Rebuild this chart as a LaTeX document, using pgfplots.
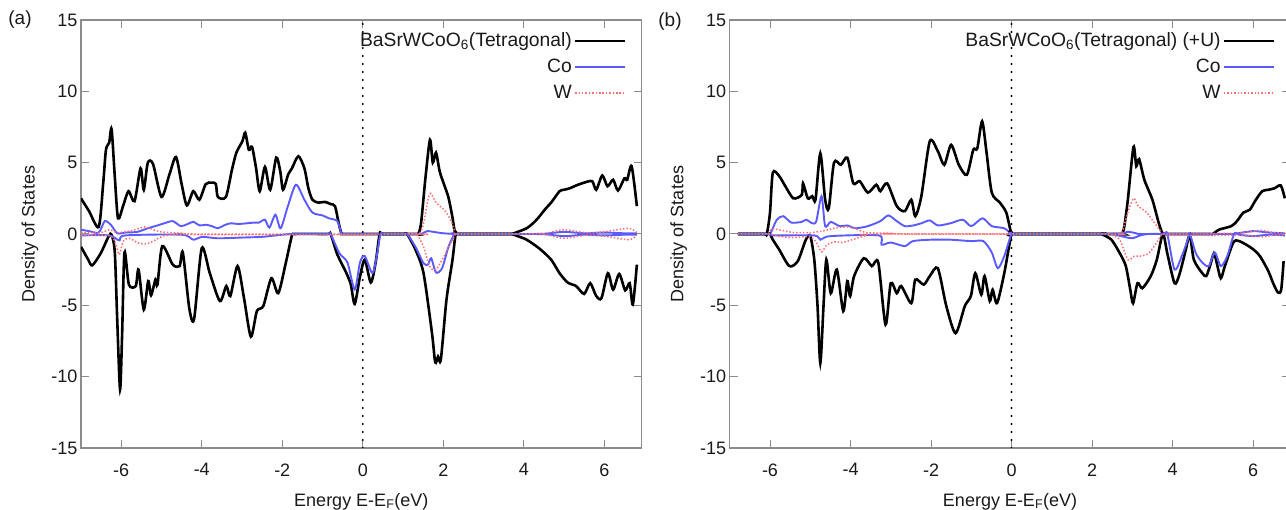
\documentclass[border=0pt]{standalone}
\usepackage{fontspec}
\setmainfont{Liberation Sans}
\usepackage{pgfplots}
\pgfplotsset{compat=1.18}
\definecolor{dosblue}{HTML}{5A5AFF}
\definecolor{dosred}{HTML}{FF6F6F}
\definecolor{framegray}{HTML}{8C8C8C}
\definecolor{ink}{HTML}{1A1A1A}

\pgfplotsset{dos/.style={
  scale only axis, width=560.7pt, height=428pt,
  xmin=-7, xmax=6.93, ymin=-15, ymax=15,
  xtick={-6,-4,-2,0,2,4,6}, ytick={-15,-10,-5,0,5,10,15},
  xticklabels={-6,-4,-2,0,2,4,6}, yticklabels={-15,-10,-5,0,5,10,15},
  tick align=inside, major tick length=8pt,
  axis line style={framegray, line width=1.2pt}, tick style={framegray, line width=1pt},
  tick label style={font=\fontsize{18}{20}\selectfont, text=ink},
  xticklabel style={yshift=-12pt},
  label style={font=\fontsize{18}{20}\selectfont, text=ink},
  xlabel={Energy E-E\textsubscript{F}(eV)},
  ylabel={Density of States},
  xlabel style={at={(axis description cs:0.5,-0.125)}, anchor=center},
  ylabel style={at={(axis description cs:-0.091,0.5)}, anchor=center},
  legend plot pos=right, legend cell align=right,
  legend style={at={(1,1)}, anchor=north east, xshift=-12pt, yshift=-8pt, draw=none, fill=none,
    font=\fontsize{19.3}{22}\selectfont, text=ink, row sep=4pt,
    nodes={inner sep=2pt, text height=14pt, text depth=4pt}},
  tot/.style={black, line width=2.6pt, smooth, tension=0.45},
  co/.style={dosblue, line width=1.9pt, smooth, tension=0.45},
  wd/.style={dosred, line width=1.5pt, dash pattern=on 1.5pt off 1.9pt, smooth, tension=0.45},
  legend image code/.code={\draw[#1] (0pt,0pt) -- (50pt,0pt);},
}}

\begin{document}
\begin{tikzpicture}
\useasboundingbox (0pt,0pt) rectangle (1286pt,510pt);
%% (a) GGA
\begin{axis}[dos, at={(81pt,62pt)}, anchor=south west]
  \draw[black, line width=2.3pt, line cap=round, dash pattern=on 0pt off 8pt] (axis cs:0,-15) -- (axis cs:0,15);
  \addplot[tot] coordinates {
    (-7.0,2.5) (-6.8,1.6) (-6.56,0.5) (-6.45,3.5) (-6.38,5.9) (-6.3,6.4) (-6.24,7.35) (-6.16,4.0) (-6.08,1.1)
    (-5.95,2.0) (-5.82,3.0) (-5.67,2.3) (-5.52,4.6) (-5.44,3.1) (-5.34,5.0) (-5.21,4.9) (-5.0,2.6) (-4.8,4.2)
    (-4.64,5.4) (-4.5,3.5) (-4.37,2.0) (-4.21,3.0) (-4.06,2.4) (-3.9,3.5) (-3.75,3.6) (-3.65,3.5) (-3.6,2.6)
    (-3.4,2.6) (-3.25,4.5) (-3.14,5.7) (-2.99,6.5) (-2.92,7.1) (-2.83,5.9) (-2.75,6.1) (-2.65,4.6) (-2.56,3.0)
    (-2.43,4.7) (-2.3,3.1) (-2.15,5.35) (-2.05,4.4) (-1.98,3.1) (-1.85,4.2) (-1.76,4.6) (-1.6,5.45) (-1.45,4.6)
    (-1.35,3.2) (-1.25,2.4) (-1.1,2.2) (-0.94,2.25) (-0.8,2.1) (-0.69,1.95) (-0.6,0.8) (-0.53,0.05) (-0.45,0)
    (1.3,0) (1.38,0) (1.45,0.8) (1.56,4.0) (1.67,6.6) (1.74,5.0) (1.82,5.7) (1.92,4.3) (2.12,2.65) (2.22,1.3)
    (2.3,0) (2.4,0) (3.6,0) (3.7,0) (3.85,0.15) (4.07,0.4) (4.25,0.8) (4.38,1.2) (4.55,1.8) (4.68,2.2) (4.89,3.0)
    (5.0,3.1) (5.14,3.2) (5.3,3.4) (5.5,3.6) (5.7,3.7) (5.8,3.1) (5.95,4.1) (6.08,3.35) (6.22,3.8) (6.34,3.05)
    (6.5,3.9) (6.57,3.8) (6.68,4.75) (6.81,1.95)};
  \addlegendentry{BaSrWCoO\textsubscript{6}(Tetragonal)}
  \addplot[co] coordinates {
    (-7.0,0.3) (-6.8,0.2) (-6.56,0.1) (-6.41,0.9) (-6.26,0.65) (-6.1,0.05) (-5.9,0.1) (-5.6,0.15) (-5.34,0.4)
    (-5.1,0.6) (-4.93,0.75) (-4.72,0.9) (-4.52,0.55) (-4.35,0.7) (-4.21,0.85) (-4.05,0.6) (-3.9,0.65) (-3.75,0.55)
    (-3.6,0.4) (-3.45,0.6) (-3.29,0.75) (-3.1,0.7) (-2.88,0.75) (-2.7,0.8) (-2.58,0.8) (-2.43,1.0) (-2.32,0.45)
    (-2.17,1.35) (-2.04,0.4) (-1.86,1.95) (-1.66,3.45) (-1.45,2.4) (-1.25,1.5) (-1.0,1.3) (-0.84,1.1) (-0.63,0.9)
    (-0.53,0.05) (-0.45,0) (1.35,0) (1.45,0) (1.6,0.2) (1.75,0.15) (2.0,0.05) (2.3,0) (2.4,0) (4.4,0) (4.5,0)
    (5.0,0.15) (5.5,0.05) (6.0,0.1) (6.5,0.05) (6.81,0.05)};
  \addlegendentry{Co}
  \addplot[wd] coordinates {
    (-7.0,0.1) (-6.5,0.1) (-6.3,0.3) (-6.1,0.1) (-5.8,0.2) (-5.6,0.35) (-5.4,0.5) (-5.2,0.3) (-5.0,0.15)
    (-4.5,0.05) (-4.3,0) (1.3,0) (1.4,0) (1.5,0.6) (1.62,2.4) (1.69,2.85) (1.82,2.2) (2.02,1.7) (2.18,1.0)
    (2.31,0) (2.4,0) (4.4,0) (4.5,0) (5.0,0.3) (5.5,0.1) (6.0,0.15) (6.6,0.4) (6.81,0.1)};
  \addlegendentry{W}
  \addplot[tot, forget plot] coordinates {
    (-7.0,-0.9) (-6.82,-1.8) (-6.72,-2.2) (-6.51,-1.35) (-6.31,-0.15) (-6.24,-0.05) (-6.16,-1.3) (-6.1,-6)
    (-6.03,-10.9) (-5.98,-7.2) (-5.92,-1.3) (-5.81,-3.55) (-5.64,-3.65) (-5.57,-2.5) (-5.44,-5.3) (-5.33,-3.3)
    (-5.26,-4.3) (-5.15,-3.2) (-5.1,-3.55) (-4.98,-0.85) (-4.72,-2.15) (-4.55,-2.25) (-4.47,-1.3) (-4.31,-5.2)
    (-4.19,-5.95) (-4.0,-1.0) (-3.8,-2.75) (-3.55,-4.7) (-3.39,-3.65) (-3.29,-4.35) (-3.11,-2.25) (-2.95,-4.5)
    (-2.78,-7.2) (-2.63,-5.4) (-2.47,-5.05) (-2.27,-3.1) (-2.1,-4.15) (-1.91,-2.0) (-1.76,-0.1) (-1.7,0)
    (-0.88,0) (-0.8,0) (-0.63,-1.45) (-0.43,-2.6) (-0.3,-3.5) (-0.2,-4.9) (-0.07,-3.0) (0.05,-1.8) (0.2,-3.4)
    (0.32,-2.0) (0.42,0) (0.5,0) (1.02,0) (1.1,0) (1.31,-1.1) (1.51,-2.75) (1.72,-6.95) (1.8,-9.0) (1.87,-8.6)
    (1.94,-8.8) (2.08,-4.6) (2.23,-1.8) (2.31,0) (2.4,0) (3.6,0) (3.7,0) (3.85,-0.15) (4.07,-0.4) (4.38,-1.0)
    (4.68,-1.8) (4.89,-2.75) (5.09,-3.4) (5.3,-3.65) (5.5,-4.2) (5.65,-3.45) (5.8,-4.35) (5.93,-4.5) (6.09,-2.75)
    (6.22,-3.9) (6.37,-2.8) (6.52,-3.95) (6.63,-3.45) (6.71,-4.95) (6.81,-2.15)};
  \addplot[co, forget plot] coordinates {
    (-7.0,-0.1) (-6.3,-0.1) (-6.05,-0.45) (-5.9,-0.1) (-4.5,-0.05) (-4.21,-0.4) (-4.0,-0.2) (-3.6,-0.3)
    (-3.0,-0.25) (-2.5,-0.2) (-2.0,-0.05) (-1.7,0) (-0.88,0) (-0.8,0) (-0.58,-1.35) (-0.38,-2.0) (-0.2,-3.9)
    (-0.07,-2.0) (0.05,-1.55) (0.24,-2.75) (0.35,-1.5) (0.44,0) (0.52,0) (1.02,0) (1.1,0) (1.31,-0.9)
    (1.51,-2.05) (1.62,-2.15) (1.7,-1.7) (1.82,-2.7) (1.97,-2.4) (2.13,-0.9) (2.28,0) (2.36,0) (4.4,0) (4.5,0)
    (5.0,-0.15) (5.5,-0.05) (6.0,-0.1) (6.5,-0.05) (6.81,-0.05)};
  \addplot[wd, forget plot] coordinates {
    (-7.0,-0.1) (-6.3,-0.1) (-6.15,-0.6) (-6.05,-1.45) (-5.95,-0.5) (-5.8,-0.3) (-5.6,-0.6) (-5.4,-0.7)
    (-5.2,-0.5) (-5.0,-0.2) (-4.5,-0.05) (-0.3,-0.05) (0.5,0) (1.27,0) (1.35,0) (1.51,-0.9) (1.67,-2.3)
    (1.82,-2.5) (2.02,-1.55) (2.23,-0.4) (2.31,0) (2.4,0) (4.4,0) (4.5,0) (5.0,-0.3) (5.5,-0.1) (6.0,-0.15)
    (6.6,-0.4) (6.81,-0.1)};
\end{axis}
\node[font=\fontsize{19}{20}\selectfont, text=ink] at (20pt,490pt) {(a)};
%% (b) GGA+U
\begin{axis}[dos, at={(729.75pt,62pt)}, anchor=south west]
  \draw[black, line width=2.3pt, line cap=round, dash pattern=on 0pt off 8pt] (axis cs:0,-15) -- (axis cs:0,15);
  \addplot[tot] coordinates {
    (-6.8,0) (-6.15,0) (-6.08,0) (-6.0,1.5) (-5.93,4.3) (-5.77,4.05) (-5.62,3.35) (-5.42,2.5) (-5.21,2.75)
    (-5.18,3.55) (-5.06,2.5) (-4.95,2.65) (-4.87,2.4) (-4.75,5.65) (-4.63,2.4) (-4.54,1.8) (-4.41,5.0)
    (-4.24,4.85) (-4.08,5.35) (-3.93,3.55) (-3.77,3.7) (-3.57,2.9) (-3.36,3.45) (-3.26,3.0) (-3.09,3.55)
    (-2.85,1.95) (-2.65,1.6) (-2.49,2.4) (-2.39,1.25) (-2.24,2.65) (-2.03,6.5) (-1.83,5.8) (-1.67,4.85)
    (-1.5,6.25) (-1.31,4.85) (-1.11,4.15) (-0.95,5.9) (-0.85,6.0) (-0.73,7.9) (-0.62,5.7) (-0.49,2.9)
    (-0.29,2.2) (-0.13,1.5) (0,0) (0.1,0) (2.65,0) (2.74,0) (2.8,0.5) (2.89,2.4) (3.03,6.1) (3.1,4.75)
    (3.17,5.25) (3.3,3.8) (3.5,2.4) (3.66,0.75) (3.76,0) (3.85,0) (4.9,0) (5.0,0) (5.15,0.3) (5.46,0.55)
    (5.6,0.9) (5.76,1.5) (5.92,1.7) (6.07,2.4) (6.23,3.0) (6.38,3.1) (6.53,3.2) (6.69,3.4) (6.79,2.5)};
  \addlegendentry{BaSrWCoO\textsubscript{6}(Tetragonal) (+U)}
  \addplot[co] coordinates {
    (-6.8,0) (-6.12,0) (-6.05,0) (-5.98,0.1) (-5.83,1.0) (-5.67,1.25) (-5.47,0.8) (-5.21,0.85) (-5.1,1.0)
    (-4.95,0.75) (-4.85,0.9) (-4.72,2.65) (-4.63,0.55) (-4.49,0.85) (-4.27,0.55) (-4.08,0.6) (-3.88,0.4)
    (-3.57,0.55) (-3.26,0.9) (-3.06,1.3) (-2.85,0.9) (-2.65,0.55) (-2.44,0.6) (-2.24,0.75) (-2.03,0.95)
    (-1.83,0.6) (-1.52,0.75) (-1.21,1.0) (-1.0,0.55) (-0.72,1.1) (-0.49,0.55) (-0.18,0.4) (0,0) (0.1,0)
    (2.6,0) (2.7,0) (2.9,0.15) (3.1,0.05) (3.3,0) (5.3,0) (5.5,0) (6.0,0.2) (6.4,0.1) (6.79,0.05)};
  \addlegendentry{Co}
  \addplot[wd] coordinates {
    (-6.8,0) (-6.12,0) (-6.05,0) (-5.95,0.35) (-5.7,0.25) (-5.4,0.1) (-5.0,0.1) (-4.7,0.2) (-4.4,0.4)
    (-4.1,0.5) (-3.9,0.4) (-3.6,0.1) (-3.0,0.05) (-2.8,0) (2.5,0) (2.6,0) (2.74,0.1) (2.89,1.5) (3.03,2.5)
    (3.15,1.95) (3.36,1.5) (3.56,0.75) (3.76,0) (3.86,0) (5.6,0.05) (5.8,0.1) (6.2,0.25) (6.5,0.1) (6.79,0.05)};
  \addlegendentry{W}
  \addplot[tot, forget plot] coordinates {
    (-6.8,0) (-6.08,0) (-6.0,0) (-5.93,-0.4) (-5.77,-1.1) (-5.52,-2.25) (-5.31,-1.9) (-5.11,-0.4) (-5.0,-0.15)
    (-4.9,-1.8) (-4.82,-5) (-4.75,-9.05) (-4.67,-5) (-4.6,-1.8) (-4.49,-4.15) (-4.34,-2.5) (-4.18,-5.4)
    (-4.08,-3.3) (-4.01,-4.35) (-3.91,-2.95) (-3.67,-1.7) (-3.47,-2.25) (-3.31,-2.0) (-3.13,-6.35) (-3.0,-3.45)
    (-2.85,-4.15) (-2.74,-3.65) (-2.49,-4.85) (-2.39,-3.2) (-2.18,-3.55) (-2.03,-2.95) (-1.83,-2.4)
    (-1.62,-5.05) (-1.39,-6.95) (-1.16,-5.05) (-1.01,-4.35) (-0.9,-2.75) (-0.75,-4.25) (-0.67,-2.95)
    (-0.54,-4.7) (-0.47,-3.9) (-0.36,-4.85) (-0.18,-2.75) (0,0) (0.1,0) (2.15,0) (2.23,0) (2.48,-0.4)
    (2.69,-1.35) (2.84,-2.25) (2.95,-3.9) (3.02,-4.85) (3.13,-3.45) (3.25,-3.8) (3.46,-2.95) (3.61,-1.8)
    (3.76,0) (3.87,-1.35) (4.05,-3.45) (4.17,-2.85) (4.33,-1.1) (4.43,-0.05) (4.53,-1.8) (4.74,-2.75)
    (4.84,-2.95) (4.94,-2.15) (5.03,-1.35) (5.1,-2.05) (5.2,-3.1) (5.3,-2.25) (5.51,-0.6) (5.66,-0.5)
    (5.97,-1.0) (6.17,-1.55) (6.38,-2.6) (6.5,-3.45) (6.62,-4.1) (6.7,-3.9) (6.76,-1.9)};
  \addplot[co, forget plot] coordinates {
    (-6.8,0) (-6.05,0) (-5.9,-0.1) (-4.9,-0.1) (-4.75,-0.4) (-4.5,-0.15) (-3.3,-0.1) (-3.23,-0.75) (-3.0,-0.6)
    (-2.65,-0.85) (-2.45,-0.5) (-2.0,-0.4) (-1.52,-0.4) (-1.0,-0.5) (-0.7,-0.5) (-0.49,-1.3) (-0.34,-2.4)
    (-0.18,-1.55) (0,0) (0.1,0) (2.4,0) (2.5,0) (2.8,-0.2) (3.0,-0.3) (3.2,-0.1) (3.4,0) (3.78,0) (3.87,0)
    (4.05,-2.5) (4.23,-1.55) (4.38,-0.4) (4.43,0) (4.58,-1.35) (4.74,-2.0) (4.9,-2.25) (5.05,-1.3) (5.2,-2.25)
    (5.36,-1.55) (5.53,0) (5.65,-0.05) (6.0,-0.15) (6.4,-0.05) (6.79,-0.1)};
  \addplot[wd, forget plot] coordinates {
    (-6.8,0) (-6.05,0) (-5.8,-0.15) (-5.5,-0.25) (-5.0,-0.2) (-4.85,-0.6) (-4.72,-1.25) (-4.6,-0.8)
    (-4.4,-0.55) (-4.2,-0.6) (-3.9,-0.35) (-3.6,-0.1) (-3.4,0) (2.4,0) (2.5,-0.1) (2.69,-0.4) (2.89,-1.8)
    (3.05,-1.55) (3.2,-1.55) (3.41,-1.35) (3.61,-0.6) (3.76,0) (4.1,-0.1) (5.8,-0.1) (6.2,-0.2) (6.5,-0.1)
    (6.79,-0.05)};
\end{axis}
\node[font=\fontsize{19}{20}\selectfont, text=ink] at (670pt,488pt) {(b)};
\end{tikzpicture}
\end{document}
